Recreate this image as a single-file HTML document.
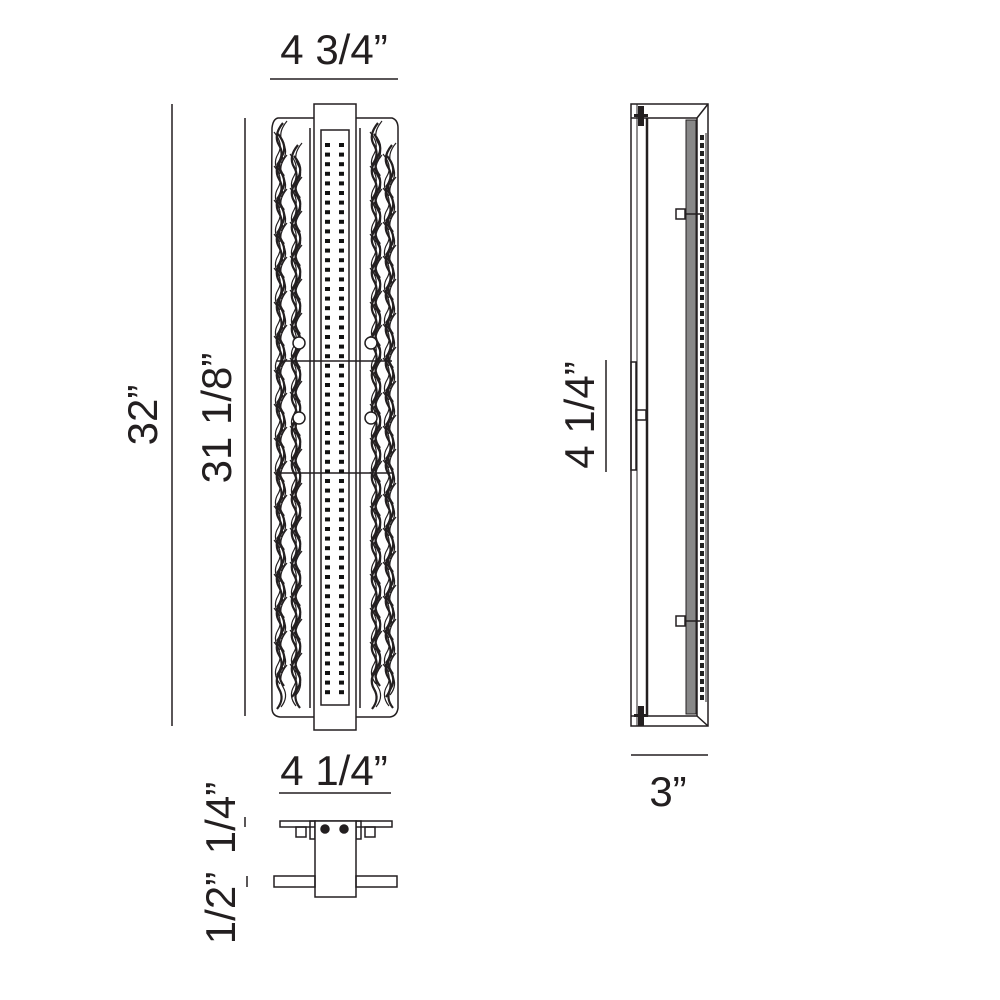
<!DOCTYPE html>
<html><head><meta charset="utf-8"><style>
html,body{margin:0;padding:0;background:#fff;}
svg{display:block;}
text{font-family:"Liberation Sans",sans-serif;font-size:42px;fill:#231f20;}
</style></head><body>
<svg id="s" width="1000" height="1000" viewBox="0 0 1000 1000" xmlns="http://www.w3.org/2000/svg" fill="none" stroke="#231f20" stroke-width="1.5">
<text x="334" y="64" text-anchor="middle" stroke="none">4 3/4”</text>
<line x1="270" y1="79" x2="398" y2="79"/>
<text transform="translate(157,415) rotate(-90)" text-anchor="middle" stroke="none">32”</text>
<line x1="172" y1="104" x2="172" y2="726"/>
<text transform="translate(231,418) rotate(-90)" text-anchor="middle" stroke="none">31 1/8”</text>
<line x1="245" y1="118" x2="245" y2="716"/>
<text x="334" y="785" text-anchor="middle" stroke="none">4 1/4”</text>
<line x1="279" y1="793" x2="391" y2="793"/>
<text transform="translate(235,818) rotate(-90)" text-anchor="middle" stroke="none">1/4”</text>
<text transform="translate(235,908) rotate(-90)" text-anchor="middle" stroke="none">1/2”</text>
<line x1="245" y1="817" x2="245" y2="827"/>
<line x1="247" y1="876" x2="247" y2="887"/>
<text transform="translate(594,415) rotate(-90)" text-anchor="middle" stroke="none">4 1/4”</text>
<line x1="606" y1="360" x2="606" y2="472"/>
<text x="668" y="806" text-anchor="middle" stroke="none">3”</text>
<line x1="631" y1="755" x2="708" y2="755"/>

<g id="wave"></g>
<g id="front">
<path d="M278 118 L392 118 Q398 120 398 128 L398 708 Q397 716 390 717 L280 717 Q272 716 272 708 Q270 420 272 128 Q273 119 278 118Z"/>
<rect x="314" y="104" width="42" height="626" fill="#fff"/>
<rect x="321" y="130" width="28" height="575"/>
<line x1="310" y1="128" x2="310" y2="708"/>
<line x1="360" y1="128" x2="360" y2="708"/>
<line x1="277" y1="361" x2="392" y2="361"/>
<line x1="277" y1="473" x2="392" y2="473"/>
<circle cx="299" cy="343" r="6" fill="#fff"/><circle cx="371" cy="343" r="6" fill="#fff"/>
<circle cx="299" cy="418" r="6" fill="#fff"/><circle cx="371" cy="418" r="6" fill="#fff"/>
</g>

<rect x="280" y="821" width="112" height="6"/>
<rect x="296" y="827" width="10" height="10"/>
<rect x="365" y="827" width="10" height="10"/>
<rect x="310" y="821" width="5" height="18"/>
<rect x="356" y="821" width="5" height="18"/>
<rect x="315" y="821" width="41" height="76" fill="#fff"/>
<circle cx="325" cy="829" r="4" fill="#231f20"/>
<circle cx="344" cy="829" r="4" fill="#231f20"/>
<rect x="274" y="876" width="41" height="11"/>
<rect x="356" y="876" width="41" height="11"/>

<rect x="631" y="104" width="77" height="622"/>
<line x1="631" y1="118" x2="697" y2="118"/>
<line x1="631" y1="716" x2="697" y2="716"/>
<line x1="708" y1="104" x2="697" y2="118"/>
<line x1="708" y1="726" x2="697" y2="716"/>
<line x1="697" y1="118" x2="697" y2="716"/>
<line x1="647" y1="118" x2="647" y2="716" stroke-width="2.5"/>
<line x1="637" y1="104" x2="637" y2="726" stroke-width="1"/>
<rect x="638" y="106" width="6" height="20" fill="#231f20" stroke="none"/>
<rect x="634" y="114" width="14" height="3" fill="#231f20" stroke="none"/>
<rect x="638" y="706" width="6" height="20" fill="#231f20" stroke="none"/>
<rect x="634" y="714" width="14" height="3" fill="#231f20" stroke="none"/>
<rect x="686" y="120" width="10" height="594" fill="#888" stroke="#231f20" stroke-width="1"/>
<rect x="676" y="209" width="9" height="10"/>
<line x1="685" y1="214" x2="703" y2="214"/>
<rect x="676" y="616" width="9" height="10"/>
<line x1="685" y1="621" x2="703" y2="621"/>
<line x1="706" y1="133" x2="706" y2="702" stroke-width="1"/>
<rect x="631" y="362" width="5" height="108"/>
<rect x="636" y="410" width="10" height="10"/>
<g id="dash"></g>
<g id="dots"></g>
</svg>
<script>
var ns="http://www.w3.org/2000/svg";
var dots=document.getElementById("dots");
for(var y=143;y<=697;y+=9.6){
 [325,339].forEach(function(x){var r=document.createElementNS(ns,"rect");r.setAttribute("x",x);r.setAttribute("y",y);r.setAttribute("width",5);r.setAttribute("height",4);r.setAttribute("fill","#111");r.setAttribute("stroke","none");dots.appendChild(r);});
}
var dash=document.getElementById("dash");
for(var y=135;y<700;y+=8){var r=document.createElementNS(ns,"rect");r.setAttribute("x",700);r.setAttribute("y",y);r.setAttribute("width",4);r.setAttribute("height",5);r.setAttribute("fill","#222");r.setAttribute("stroke","none");dash.appendChild(r);}
var w=document.getElementById("wave");
function wv(x0,y0,dir){
 var d="M"+x0+" "+y0+" q"+(8*dir)+" -10 "+(2*dir)+" -20 q"+(-6*dir)+" -10 "+(4*dir)+" -22";
 var p=document.createElementNS(ns,"path");p.setAttribute("d",d);p.setAttribute("stroke-width","2.2");w.appendChild(p);
 var p2=document.createElementNS(ns,"path");p2.setAttribute("d","M"+(x0+4*dir)+" "+(y0-2)+" q"+(8*dir)+" -10 "+(2*dir)+" -20 q"+(-6*dir)+" -10 "+(4*dir)+" -22");p2.setAttribute("stroke-width","1.2");w.appendChild(p2);
}
var cols=[[277,1],[284,-1],[292,1],[300,-1],[372,1],[380,-1],[386,1],[393,-1]];
cols.forEach(function(c,i){
 for(var y=165+(i%4)*11;y<715;y+=34){wv(c[0],y,c[1]);}
});
</script>
</body></html>
